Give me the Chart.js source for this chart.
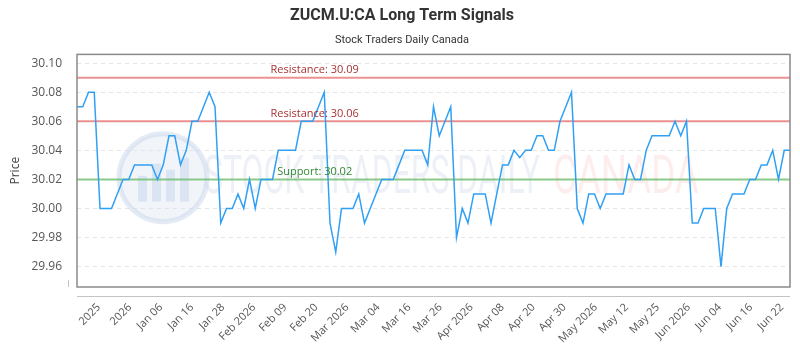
<!DOCTYPE html>
<html lang="en">
<head>
    <meta charset="UTF-8">
    <title>ZUCM.U:CA Long Term Signals</title>
    <script src="https://cdn.jsdelivr.net/npm/chart.js"></script>
    <style>
        * {
            margin: 0;
            padding: 0;
            box-sizing: border-box;
        }

        body {
            background: #ffffff;
            width: 800px;
            height: 350px;
            overflow: hidden;
        }
    </style>
</head>
<body>
    <canvas id="signalChart" width="800" height="350"></canvas>

    <script>
        // closing prices, one per session
        const prices = [
            30.07, 30.07, 30.08, 30.08, 30.00, 30.00, 30.00, 30.01, 30.02, 30.02,
            30.03, 30.03, 30.03, 30.03, 30.02, 30.03, 30.05, 30.05, 30.03, 30.04,
            30.06, 30.06, 30.07, 30.08, 30.07, 29.99, 30.00, 30.00, 30.01, 30.00,
            30.02, 30.00, 30.02, 30.02, 30.02, 30.04, 30.04, 30.04, 30.04, 30.06,
            30.06, 30.06, 30.07, 30.08, 29.99, 29.97, 30.00, 30.00, 30.00, 30.01,
            29.99, 30.00, 30.01, 30.02, 30.02, 30.02, 30.03, 30.04, 30.04, 30.04,
            30.04, 30.03, 30.07, 30.05, 30.06, 30.07, 29.98, 30.00, 29.99, 30.01,
            30.01, 30.01, 29.99, 30.01, 30.03, 30.03, 30.04, 30.035, 30.04, 30.04,
            30.05, 30.05, 30.04, 30.04, 30.06, 30.07, 30.08, 30.00, 29.99, 30.01,
            30.01, 30.00, 30.01, 30.01, 30.01, 30.01, 30.03, 30.02, 30.02, 30.04,
            30.05, 30.05, 30.05, 30.05, 30.06, 30.05, 30.06, 29.99, 29.99, 30.00,
            30.00, 30.00, 29.96, 30.00, 30.01, 30.01, 30.01, 30.02, 30.02, 30.03,
            30.03, 30.04, 30.02, 30.04, 30.04
        ];

        const resistanceLevels = [30.09, 30.06];
        const supportLevels = [30.02];

        // x axis labels and the session (index) each one sits at
        const tickLabels = ['2025', '2026', 'Jan 06', 'Jan 16', 'Jan 28', 'Feb 2026', 'Feb 09', 'Feb 20',
            'Mar 2026', 'Mar 04', 'Mar 16', 'Mar 26', 'Apr 2026', 'Apr 08', 'Apr 20', 'Apr 30',
            'May 2026', 'May 12', 'May 25', 'Jun 2026', 'Jun 04', 'Jun 16', 'Jun 22'];
        const tickAt = [3.8, 9.2, 14.6, 20.0, 25.4, 30.8, 36.2, 41.6, 47.0, 52.4, 57.8, 63.2,
            68.6, 74.0, 79.4, 84.8, 90.2, 95.6, 101.0, 106.4, 111.8, 117.2, 122.6];

        const yTicks = [29.96, 29.98, 30.00, 30.02, 30.04, 30.06, 30.08, 30.10];

        const lastIndex = prices.length - 1;

        function levelDataset(level, color) {
            return {
                data: [{ x: 0, y: level }, { x: lastIndex, y: level }],
                borderColor: color,
                borderWidth: 2,
                pointRadius: 0,
                order: 2
            };
        }

        const levelLines = [
            ...resistanceLevels.map(l => ({ level: l, text: 'Resistance: ' + l.toFixed(2), color: '#a83232' })),
            ...supportLevels.map(l => ({ level: l, text: 'Support: ' + l.toFixed(2), color: '#338833' }))
        ];

        // plot frame, offset axis lines, watermark and level labels
        const decorations = {
            id: 'decorations',
            beforeDatasetsDraw(chart) {
                const { ctx, chartArea: a } = chart;
                ctx.save();
                // watermark
                const cy = a.top + (a.bottom - a.top) * 0.53;
                ctx.fillStyle = 'rgba(215, 225, 240, 0.35)';
                ctx.beginPath();
                ctx.arc(163, cy, 44, 0, Math.PI * 2);
                ctx.fill();
                ctx.strokeStyle = 'rgba(190, 205, 230, 0.4)';
                ctx.lineWidth = 5;
                ctx.stroke();
                ctx.fillStyle = 'rgba(180, 198, 228, 0.35)';
                ctx.fillRect(138, cy - 2, 9, 26);
                ctx.fillRect(152, cy - 14, 9, 38);
                ctx.fillRect(166, cy - 8, 9, 32);
                ctx.fillRect(180, cy - 20, 9, 44);
                ctx.font = '54px Roboto, sans-serif';
                ctx.textBaseline = 'middle';
                ctx.textAlign = 'left';
                const w1 = ctx.measureText('STOCK TRADERS DAILY').width;
                ctx.save();
                ctx.translate(204, cy + 2);
                ctx.scale(336 / w1, 1);
                ctx.fillStyle = 'rgba(200, 212, 232, 0.33)';
                ctx.fillText('STOCK TRADERS DAILY', 0, 0);
                ctx.restore();
                const w2 = ctx.measureText('CANADA').width;
                ctx.save();
                ctx.translate(553, cy + 2);
                ctx.scale(146 / w2, 1);
                ctx.fillStyle = 'rgba(250, 200, 200, 0.33)';
                ctx.fillText('CANADA', 0, 0);
                ctx.restore();
                ctx.restore();
            },
            afterDatasetsDraw(chart) {
                const { ctx, chartArea: a, scales } = chart;
                ctx.save();
                ctx.font = '11px "Open Sans", sans-serif';
                ctx.textAlign = 'center';
                ctx.textBaseline = 'bottom';
                const cx = a.left + (a.right - a.left) / 3;
                levelLines.forEach(l => {
                    ctx.fillStyle = l.color;
                    ctx.fillText(l.text, cx, scales.y.getPixelForValue(l.level) - 2);
                });
                // frame
                ctx.strokeStyle = '#8a8a8a';
                ctx.lineWidth = 1.5;
                ctx.strokeRect(a.left, a.top, a.right - a.left, a.bottom - a.top);
                // offset axis line
                ctx.strokeStyle = '#c4c4c4';
                ctx.lineWidth = 1;
                ctx.beginPath();
                const by = Math.round(a.bottom + 9) + 0.5;
                ctx.moveTo(a.left, by);
                ctx.lineTo(a.right, by);
                const lx = Math.round(a.left - 9) + 0.5;
                ctx.moveTo(lx, a.bottom - 7);
                ctx.lineTo(lx, a.bottom);
                ctx.stroke();
                ctx.restore();
            }
        };

        const ctx = document.getElementById('signalChart').getContext('2d');
        new Chart(ctx, {
            type: 'line',
            data: {
                datasets: [
                    {
                        data: prices.map((v, i) => ({ x: i, y: v })),
                        borderColor: '#30a0f5',
                        borderWidth: 1.5,
                        pointRadius: 0,
                        tension: 0,
                        order: 1
                    },
                    levelDataset(resistanceLevels[0], 'rgba(230, 110, 110, 0.75)'),
                    levelDataset(resistanceLevels[1], 'rgba(230, 110, 110, 0.75)'),
                    levelDataset(supportLevels[0], 'rgba(110, 190, 110, 0.8)')
                ]
            },
            options: {
                responsive: false,
                animation: false,
                layout: {
                    padding: { left: 4, right: 0, top: 0, bottom: 0 }
                },
                plugins: {
                    legend: { display: false },
                    tooltip: { enabled: false },
                    title: {
                        display: true,
                        text: 'ZUCM.U:CA Long Term Signals',
                        color: '#333333',
                        font: { family: 'Roboto, sans-serif', size: 16, weight: 'bold' },
                        padding: { top: 6, bottom: 8 }
                    },
                    subtitle: {
                        display: true,
                        text: 'Stock Traders Daily Canada',
                        color: '#333333',
                        font: { family: 'Roboto, sans-serif', size: 11 },
                        padding: { top: 0, bottom: 8 }
                    }
                },
                scales: {
                    x: {
                        type: 'linear',
                        min: 0,
                        max: lastIndex,
                        grid: { display: false },
                        border: { display: false },
                        afterBuildTicks: scale => {
                            scale.ticks = tickAt.map(v => ({ value: v }));
                        },
                        afterFit: scale => {
                            scale.height = 63;
                        },
                        ticks: {
                            autoSkip: false,
                            minRotation: 45,
                            maxRotation: 45,
                            padding: 6,
                            color: '#555555',
                            font: { family: '"Open Sans", sans-serif', size: 11 },
                            callback: (value, index) => tickLabels[index]
                        }
                    },
                    y: {
                        min: 29.946,
                        max: 30.106,
                        grid: {
                            color: '#e6e6e6',
                            drawTicks: false
                        },
                        border: { display: false, dash: [4, 4] },
                        afterBuildTicks: scale => {
                            scale.ticks = yTicks.map(v => ({ value: v }));
                        },
                        afterFit: scale => {
                            scale.width = 73;
                        },
                        title: {
                            display: true,
                            text: 'Price',
                            color: '#444444',
                            font: { family: '"Open Sans", sans-serif', size: 12 },
                            padding: { top: 4, bottom: 0 }
                        },
                        ticks: {
                            padding: 15,
                            color: '#555555',
                            font: { family: '"Open Sans", sans-serif', size: 12 },
                            callback: value => value.toFixed(2)
                        }
                    },
                    // empty right-hand gutter so the plot stops short of the edge
                    gutter: {
                        position: 'right',
                        display: true,
                        grid: { display: false },
                        border: { display: false },
                        ticks: { display: false },
                        afterFit: scale => {
                            scale.width = 10;
                        }
                    }
                }
            },
            plugins: [decorations]
        });
    </script>
</body>
</html>
